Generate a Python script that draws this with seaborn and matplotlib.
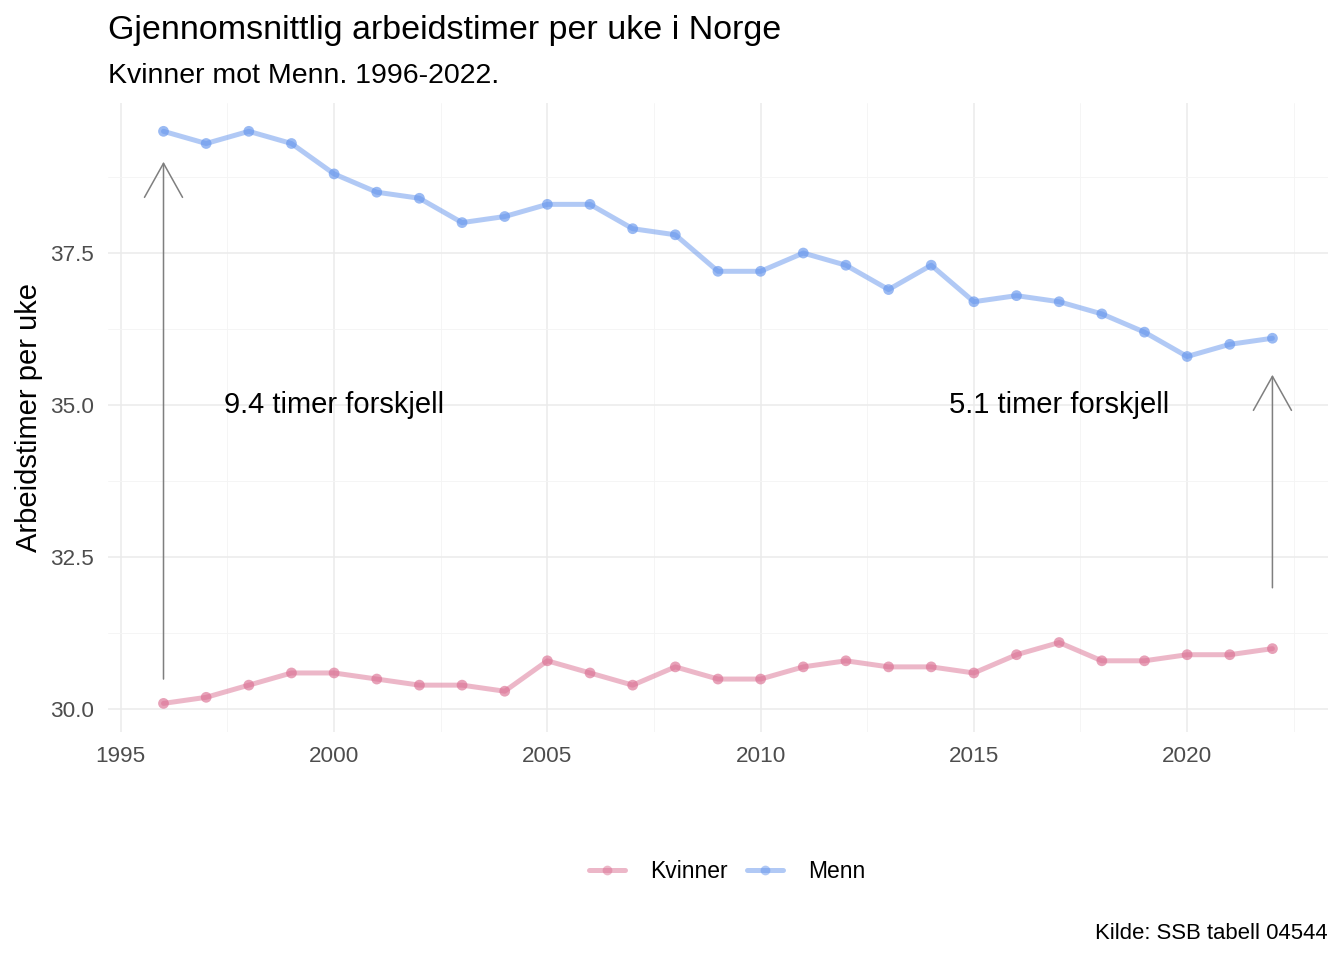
import numpy as np
import pandas as pd
import matplotlib
matplotlib.use("Agg")
import matplotlib.pyplot as plt
from matplotlib.lines import Line2D
from matplotlib.ticker import MultipleLocator, FormatStrFormatter
import seaborn as sns

# ------------------------------
# Data
# ------------------------------
years = list(range(1996, 2023))
menn = [39.5, 39.3, 39.5, 39.3, 38.8, 38.5, 38.4, 38.0, 38.1, 38.3,
        38.3, 37.9, 37.8, 37.2, 37.2, 37.5, 37.3, 36.9, 37.3, 36.7,
        36.8, 36.7, 36.5, 36.2, 35.8, 36.0, 36.1]
kvinner = [30.1, 30.2, 30.4, 30.6, 30.6, 30.5, 30.4, 30.4, 30.3, 30.8,
           30.6, 30.4, 30.7, 30.5, 30.5, 30.7, 30.8, 30.7, 30.7, 30.6,
           30.9, 31.1, 30.8, 30.8, 30.9, 30.9, 31.0]
groups = ["Kvinner", "Menn"]
annot_text = ["9.4 timer forskjell", "5.1 timer forskjell"]
annot_x = [2000, 2017]
annot_y = [35.0, 35.0]
arrow_x = [1996, 2022]
arrow_from = [30.5, 32.0]
arrow_to = [39.0, 35.5]

df = pd.DataFrame({
    "year": years * 2,
    "timer": kvinner + menn,
    "kjonn": ["Kvinner"] * len(years) + ["Menn"] * len(years),
})

line_colors = {"Kvinner": "#DB7093", "Menn": "#6495ED"}

# ------------------------------
# Plot
# ------------------------------
sns.set_theme(style="whitegrid")
plt.rcParams["font.family"] = ["Liberation Sans", "DejaVu Sans"]

fig = plt.figure(figsize=(13.44, 9.6), dpi=100)
ax = fig.add_axes([0.0804, 0.2375, 0.9076, 0.6555])

sns.lineplot(data=df, x="year", y="timer", hue="kjonn", palette=line_colors,
             linewidth=3.6, alpha=0.5, legend=False, ax=ax)
sns.scatterplot(data=df, x="year", y="timer", hue="kjonn", palette=line_colors,
                s=60, alpha=0.65, edgecolor="none", legend=False, ax=ax, zorder=3)

# arrows and labels
for x, y0, y1 in zip(arrow_x, arrow_from, arrow_to):
    ax.annotate("", xy=(x, y1), xytext=(x, y0),
                arrowprops=dict(arrowstyle="->,head_length=2.45,head_width=1.37",
                                color="#7f7f7f", lw=1.1, shrinkA=0, shrinkB=0,
                                mutation_scale=10))
for t, x, y in zip(annot_text, annot_x, annot_y):
    ax.text(x, y, t, ha="center", va="center", fontsize=21, color="black")

# axes
ax.set_xlim(1994.7, 2023.3)
ax.set_ylim(29.63, 39.97)
ax.xaxis.set_major_locator(MultipleLocator(5))
ax.xaxis.set_minor_locator(MultipleLocator(2.5))
ax.yaxis.set_major_locator(MultipleLocator(2.5))
ax.yaxis.set_minor_locator(MultipleLocator(1.25))
ax.yaxis.set_major_formatter(FormatStrFormatter("%.1f"))
ax.grid(which="major", color="#ebebeb", linewidth=1.1)
ax.grid(which="minor", color="#f4f4f4", linewidth=0.6)
for s in ax.spines.values():
    s.set_visible(False)
ax.tick_params(axis="both", which="both", length=0, labelsize=16.2,
               labelcolor="#4d4d4d")
ax.tick_params(axis="x", pad=10)
ax.tick_params(axis="y", pad=10)
ax.set_xlabel("")
ax.set_ylabel("Arbeidstimer per uke", fontsize=21, color="black")
ax.yaxis.set_label_coords(-0.053, 0.5)

# titles
fig.text(0.0804, 0.968, "Gjennomsnittlig arbeidstimer per uke i Norge",
         fontsize=24.5, ha="left", va="center", color="black")
fig.text(0.0804, 0.921, "Kvinner mot Menn. 1996-2022.",
         fontsize=20.5, ha="left", va="center", color="black")
fig.text(0.988, 0.028, "Kilde: SSB tabell 04544",
         fontsize=15.9, ha="right", va="center", color="black")

# legend
handles = [Line2D([0], [0], color=line_colors[g], lw=3.6, alpha=0.5,
                  marker="o", markersize=7, markerfacecolor=line_colors[g],
                  markeredgecolor="none")
           for g in groups]
leg = fig.legend(handles, groups, loc="center", bbox_to_anchor=(0.541, 0.092),
                 ncol=2, frameon=False, fontsize=16.5, handlelength=1.55,
                 columnspacing=0.85, handletextpad=1.1)
for t in leg.get_texts():
    t.set_color("black")

fig.savefig("out.png", dpi=100)
